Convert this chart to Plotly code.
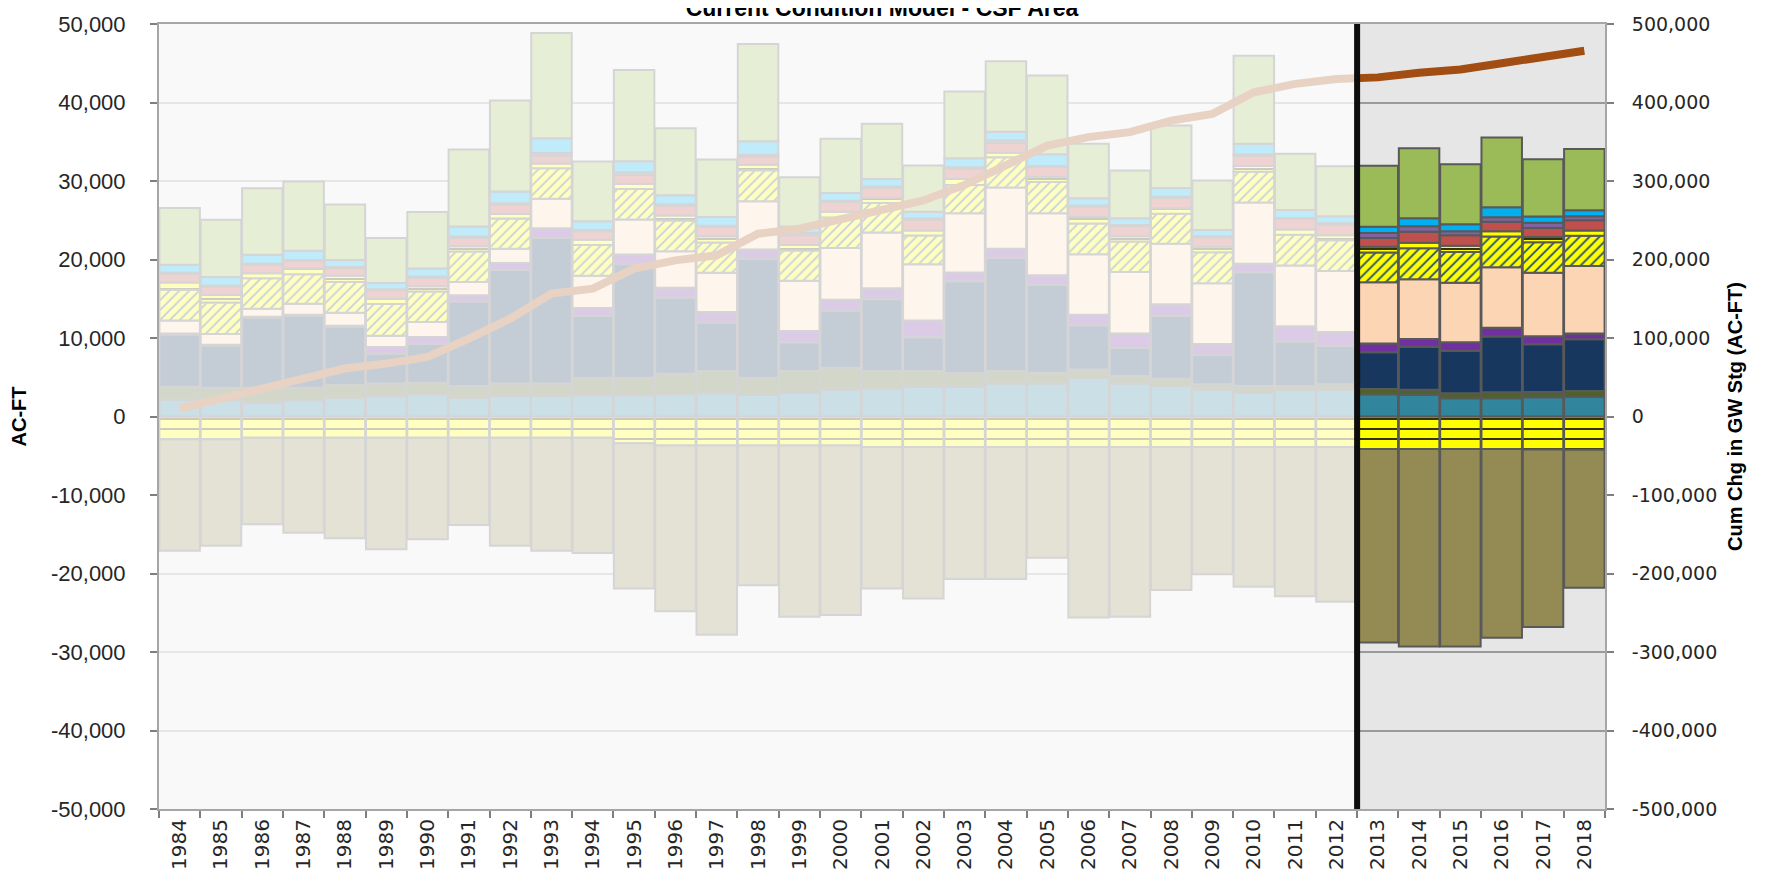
import plotly.graph_objects as go

years = [str(y) for y in range(1984, 2019)]

teal = [2120, 2080, 1780, 2080, 2400, 2580, 2820, 2400, 2600, 2600, 2700, 2700, 2820, 2950, 2770, 3000, 3450, 3560,
        3790, 3790, 4200, 4200, 4900, 4200, 3900, 3450, 3000, 3400, 3450, 2820, 2780, 2330, 2330, 2440, 2500]
dk_green = [1660, 1590, 1890, 1590, 1600, 1620, 1480, 1480, 1600, 1600, 2240, 2240, 2630, 2840, 2170, 2790, 2760, 2230,
            2000, 1710, 1590, 1380, 1100, 950, 900, 650, 880, 480, 650, 680, 640, 640, 750, 680, 750]
navy = [6680, 5370, 8930, 9190, 7460, 3840, 4940, 10770, 14480, 18550, 7890, 14460, 9710, 6190, 15160, 3670, 7280, 9160,
        4300, 11740, 14410, 11190, 5620, 3600, 8030, 3770, 14500, 5680, 4870, 4690, 5450, 5420, 7110, 6070, 6580]
purple = [100, 100, 100, 100, 100, 820, 890, 790, 870, 1230, 1000, 1240, 1250, 1340, 1170, 1440, 1380, 1400,
          2130, 1110, 1180, 1210, 1340, 1830, 1460, 1380, 1090, 1930, 1800, 1110, 1000, 1060, 1130, 1040, 740]
peach = [1680, 1380, 1040, 1400, 1650, 1440, 1910, 1690, 1820, 3760, 4090, 4450, 4650, 4980, 6150, 6380, 6610, 7090,
         7180, 7540, 7780, 7910, 7710, 7820, 7720, 7740, 7800, 7760, 7780, 7790, 7600, 7600, 7680, 8090, 8600]
hatched = [3920, 4000, 3880, 3770, 3930, 4030, 3880, 3890, 3850, 3880, 3940, 3880, 3920, 3880, 3960, 3880, 3860, 3770,
           3650, 3610, 3860, 3970, 3930, 3890, 3820, 3920, 3920, 3890, 3890, 3810, 3970, 3900, 3930, 3870, 3870]
dashed_pos = [910, 960, 640, 720, 780, 680, 680, 670, 570, 620, 640, 640, 640, 790, 700, 700, 740, 630,
              650, 740, 590, 680, 810, 680, 700, 720, 720, 670, 650, 710, 680, 810, 680, 680, 670]
red = [1080, 1060, 1060, 950, 970, 1060, 1080, 1090, 1210, 1010, 1100, 1140, 1270, 1180, 970, 1240, 1250, 1280,
       1390, 1360, 1240, 1230, 1310, 1270, 1310, 1190, 1340, 1340, 1380, 1130, 1400, 1320, 1210, 1140, 1300]
violet = [150, 150, 150, 150, 150, 150, 150, 150, 150, 330, 150, 350, 150, 150, 300, 300, 150, 180,
          150, 150, 350, 150, 150, 150, 150, 150, 150, 150, 150, 630, 700, 520, 550, 680, 490]
light_blue = [1020, 1080, 1120, 1150, 910, 800, 1020, 1270, 1500, 1850, 1130, 1400, 1140, 1110, 1700, 800, 1000, 940,
              840, 1140, 1080, 1500, 930, 870, 1130, 800, 1340, 1020, 890, 810, 1050, 880, 1280, 790, 760]
green = [7230, 7290, 8500, 8840, 7060, 5710, 7190, 9810, 11600, 13430, 7610, 11650, 8550, 7330, 12410, 6290, 6890, 7040,
         5900, 8500, 8970, 10010, 6930, 6080, 7950, 6300, 11230, 7140, 6380, 7750, 8910, 7660, 8890, 7300, 7830]

dashed_neg = [-2900, -2900, -2700, -2700, -2700, -2700, -2700, -2700, -2700, -2700, -2700, -3400, -3700, -3700, -3700,
              -3700, -3700, -3900, -3900, -3900, -3900, -3900, -3900, -3900, -3900, -3900, -3900, -3900, -3900,
              -4150, -4150, -4150, -4150, -4200, -4250]
olive = [-14200, -13550, -11040, -12100, -12820, -14220, -12950, -11130, -13750, -14400, -14700, -18500, -21100, -24100,
         -17800, -21800, -21600, -18000, -19300, -16800, -16800, -14100, -21700, -21600, -18200, -16200, -17800, -19000,
         -19700, -24650, -25150, -25150, -24050, -22600, -17550]

cum_chg = [10000, 22900, 35600, 50500, 61100, 67400, 75900, 99200, 124700, 156500, 162800, 188300, 198900, 205300,
           232800, 239200, 251900, 264600, 275200, 295000, 319700, 345200, 355900, 362200, 377000, 385500, 413100,
           423700, 430000, 432000, 438000, 442000, 450000, 457000, 466000]

left_tickvals = [50000, 40000, 30000, 20000, 10000, 0, -10000, -20000, -30000, -40000, -50000]
left_ticktext = ["50,000", "40,000", "30,000", "20,000", "10,000", "0",
                 "-10,000", "-20,000", "-30,000", "-40,000", "-50,000"]
right_tickvals = [500000, 400000, 300000, 200000, 100000, 0, -100000, -200000, -300000, -400000, -500000]
right_ticktext = ["500,000", "400,000", "300,000", "200,000", "100,000", "0",
                  "-100,000", "-200,000", "-300,000", "-400,000", "-500,000"]

BORDER = dict(color="#595959", width=2)

fig = go.Figure()


def add_bar(vals, color, pattern=None):
    marker = dict(color=color, line=BORDER)
    if pattern:
        marker["pattern"] = pattern
    fig.add_trace(go.Bar(x=years, y=vals, marker=marker, showlegend=False, hoverinfo="skip"))


dash_pat = dict(shape="-", fgcolor="#000000", bgcolor="#FFFF00", size=10, solidity=0.16, fillmode="replace")
hatch_pat = dict(shape="/", fgcolor="#1F497D", bgcolor="#FFFF00", size=7, solidity=0.25, fillmode="replace")

# negative stack (from zero downward)
add_bar(dashed_neg, "#FFFF00", dash_pat)
add_bar(olive, "#948A54")
# positive stack (bottom to top)
add_bar(teal, "#31859C")
add_bar(dk_green, "#4F6228")
add_bar(navy, "#17375E")
add_bar(purple, "#7030A0")
add_bar(peach, "#FCD5B5")
add_bar(hatched, "#FFFF00", hatch_pat)
add_bar(dashed_pos, "#FFFF00", dash_pat)
add_bar(red, "#C0504D")
add_bar(violet, "#8064A2")
add_bar(light_blue, "#00B0F0")
add_bar(green, "#9BBB59")

fig.add_trace(go.Scatter(x=years, y=cum_chg, mode="lines", yaxis="y2",
                         line=dict(color="#A24D12", width=8), showlegend=False, hoverinfo="skip"))

tick_font_left = dict(family="Liberation Sans Narrow, Liberation Sans, Arial", size=22, color="#262626")
tick_font_x = dict(family="DejaVu Sans, Verdana", size=20, color="#262626")
tick_font_right = dict(family="DejaVu Sans, Verdana", size=19, color="#262626")

fig.update_layout(
    width=1771, height=872,
    margin=dict(l=151, r=174, t=16, b=71, autoexpand=False),
    paper_bgcolor="white",
    plot_bgcolor="#E6E6E6",
    barmode="relative",
    bargap=0.02,
    title=dict(text="<b>Current Condition Model - CSF Area</b>", x=0.5, xref="paper",
               y=1.0, yref="container", yanchor="middle",
               font=dict(family="Liberation Sans, Arial", size=23, color="#000000")),
    xaxis=dict(type="category", tickangle=-90, tickfont=tick_font_x, automargin=False,
               showline=True, linecolor="#A6A6A6", linewidth=2, mirror=True,
               ticks="outside", tickson="boundaries", ticklen=7, tickcolor="#7F7F7F", tickwidth=2,
               showgrid=False, range=[-0.5, 34.5]),
    yaxis=dict(range=[-50000, 50000], tickmode="array", tickvals=left_tickvals, ticktext=left_ticktext,
               tickfont=tick_font_left, automargin=False, ticklabelstandoff=20,
               showgrid=True, gridcolor="#9A9A9A", gridwidth=2, zeroline=False,
               showline=True, linecolor="#A6A6A6", linewidth=2,
               ticks="outside", ticklen=7, tickcolor="#7F7F7F", tickwidth=2,
               title=dict(text="<b>AC-FT</b>", standoff=22,
                          font=dict(family="Liberation Sans Narrow, Liberation Sans, Arial", size=20, color="#000000"))),
    yaxis2=dict(range=[-500000, 500000], tickmode="array", tickvals=right_tickvals, ticktext=right_ticktext,
                tickfont=tick_font_right, automargin=False, ticklabelstandoff=14,
                overlaying="y", side="right", anchor="x", showgrid=False, zeroline=False,
                showline=True, linecolor="#A6A6A6", linewidth=2,
                ticks="outside", ticklen=7, tickcolor="#7F7F7F", tickwidth=2,
                title=dict(text="<b>Cum Chg in GW Stg (AC-FT)</b>", standoff=12,
                           font=dict(family="Liberation Sans Narrow, Liberation Sans, Arial", size=20, color="#000000"))),
    shapes=[
        dict(type="rect", xref="x", yref="paper", x0=-0.5, x1=28.5, y0=0, y1=1,
             fillcolor="white", opacity=0.75, line=dict(width=0), layer="above"),
        dict(type="line", xref="x", yref="paper", x0=28.5, x1=28.5, y0=0, y1=1,
             line=dict(color="#0D0D0D", width=6), layer="above"),
    ],
)

fig.write_html("out.html")
